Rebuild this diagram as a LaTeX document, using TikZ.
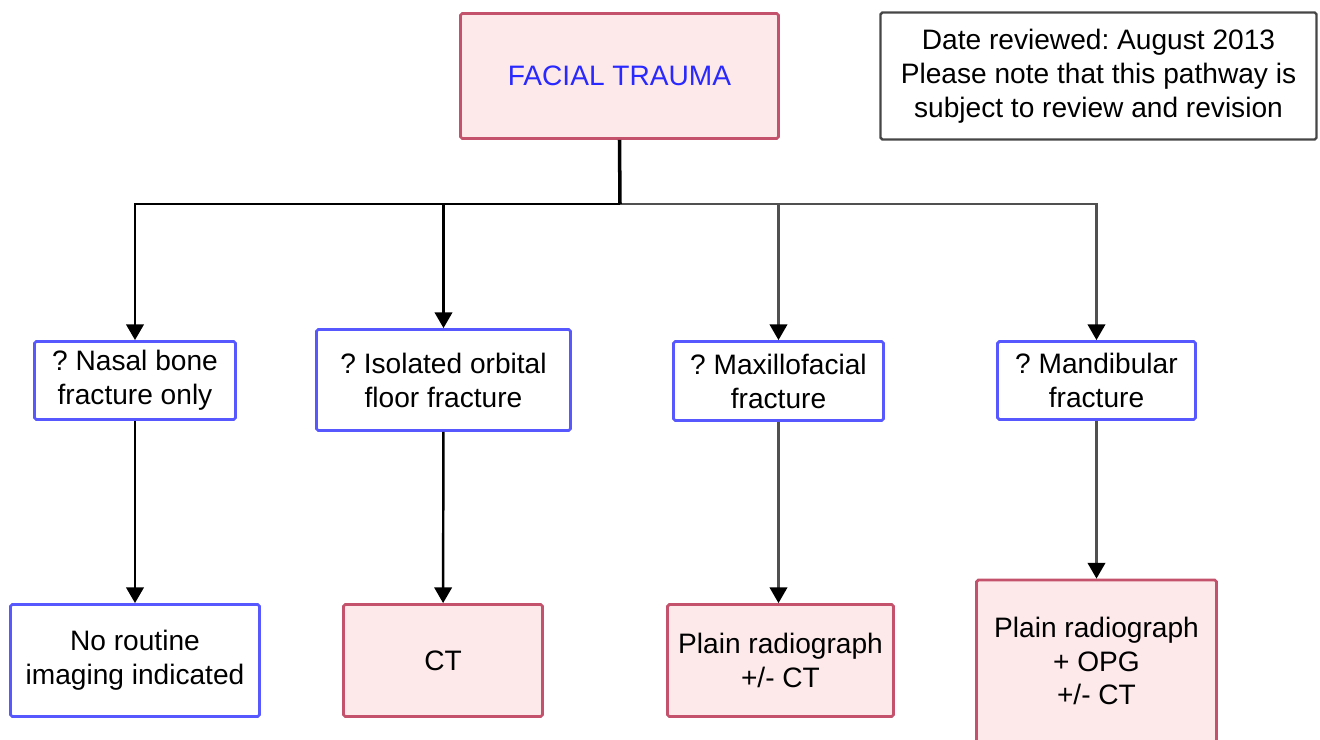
\documentclass[tikz,border=0pt]{standalone}
\usepackage{fontspec}
\setmainfont{Liberation Sans}
\usetikzlibrary{arrows.meta}
\definecolor{boxpink}{RGB}{253,233,234}
\definecolor{boxred}{RGB}{196,82,108}
\definecolor{boxblue}{RGB}{88,88,255}
\definecolor{textblue}{RGB}{40,40,255}
\definecolor{notegray}{RGB}{70,70,70}
\definecolor{linkgray}{RGB}{80,80,80}
\frenchspacing

\begin{document}
\begin{tikzpicture}[
    x=0.02cm, y=-0.02cm,
    >={Triangle[length=9pt, width=10pt, color=black]},
    every node/.style={font=\fontsize{16}{19.3}\selectfont, align=center, inner sep=0pt},
    box/.style={draw, line width=1.6pt, rounded corners=1pt},
    result box/.style={box, draw=boxred, fill=boxpink},
    question box/.style={box, draw=boxblue, fill=white},
    note box/.style={box, draw=notegray, fill=white, line width=1.4pt},
    link/.style={->, linkgray, line width=1.4pt},
    trunk/.style={black, line width=2pt}
    ]

    \useasboundingbox (0,0) rectangle (1320,740);

    % top row
    \node[result box, minimum width=318*0.02cm, minimum height=125*0.02cm, text=textblue]
        (trauma) at (619.5,76) {FACIAL TRAUMA};
    \node[note box, minimum width=436*0.02cm, minimum height=127*0.02cm]
        (note) at (1098.5,76) {Date reviewed: August 2013\\Please note that this pathway is\\subject to review and revision};

    % questions
    \node[question box, minimum width=201*0.02cm, minimum height=78*0.02cm]
        (nasal) at (135,380.5) {? Nasal bone\\fracture only};
    \node[question box, minimum width=254*0.02cm, minimum height=101*0.02cm]
        (orbital) at (443.5,380) {? Isolated orbital\\floor fracture};
    \node[question box, minimum width=210*0.02cm, minimum height=79*0.02cm]
        (maxillo) at (778.5,381) {? Maxillofacial\\fracture};
    \node[question box, minimum width=198*0.02cm, minimum height=78*0.02cm]
        (mandib) at (1096.5,380.5) {? Mandibular\\fracture};

    % imaging
    \node[question box, minimum width=249*0.02cm, minimum height=112*0.02cm]
        (noimaging) at (135,660.5) {No routine\\imaging indicated};
    \node[result box, minimum width=199*0.02cm, minimum height=112*0.02cm]
        (ct) at (443,660.5) {CT};
    \node[result box, minimum width=226*0.02cm, minimum height=112*0.02cm]
        (plain) at (780.5,660.5) {Plain radiograph\\+/- CT};
    \node[result box, minimum width=240*0.02cm, minimum height=162*0.02cm]
        (plainopg) at (1096.5,661) {Plain radiograph\\+ OPG\\+/- CT};

    \coordinate (split) at (620,204);

    \draw[link] (split) -| (maxillo.north);
    \draw[link] (split) -| (mandib.north);
    \draw[link, black] (split) -| (nasal.north);
    \draw[link, black] (split) -| (orbital.north);
    \draw[trunk] (trauma.south) -- (split);

    \draw[link, black] (nasal) -- (noimaging);
    \draw[link, black] (orbital) -- (ct);
    \draw[link] (maxillo) -- (maxillo |- plain.north);
    \draw[link] (mandib) -- (plainopg);

\end{tikzpicture}
\end{document}
